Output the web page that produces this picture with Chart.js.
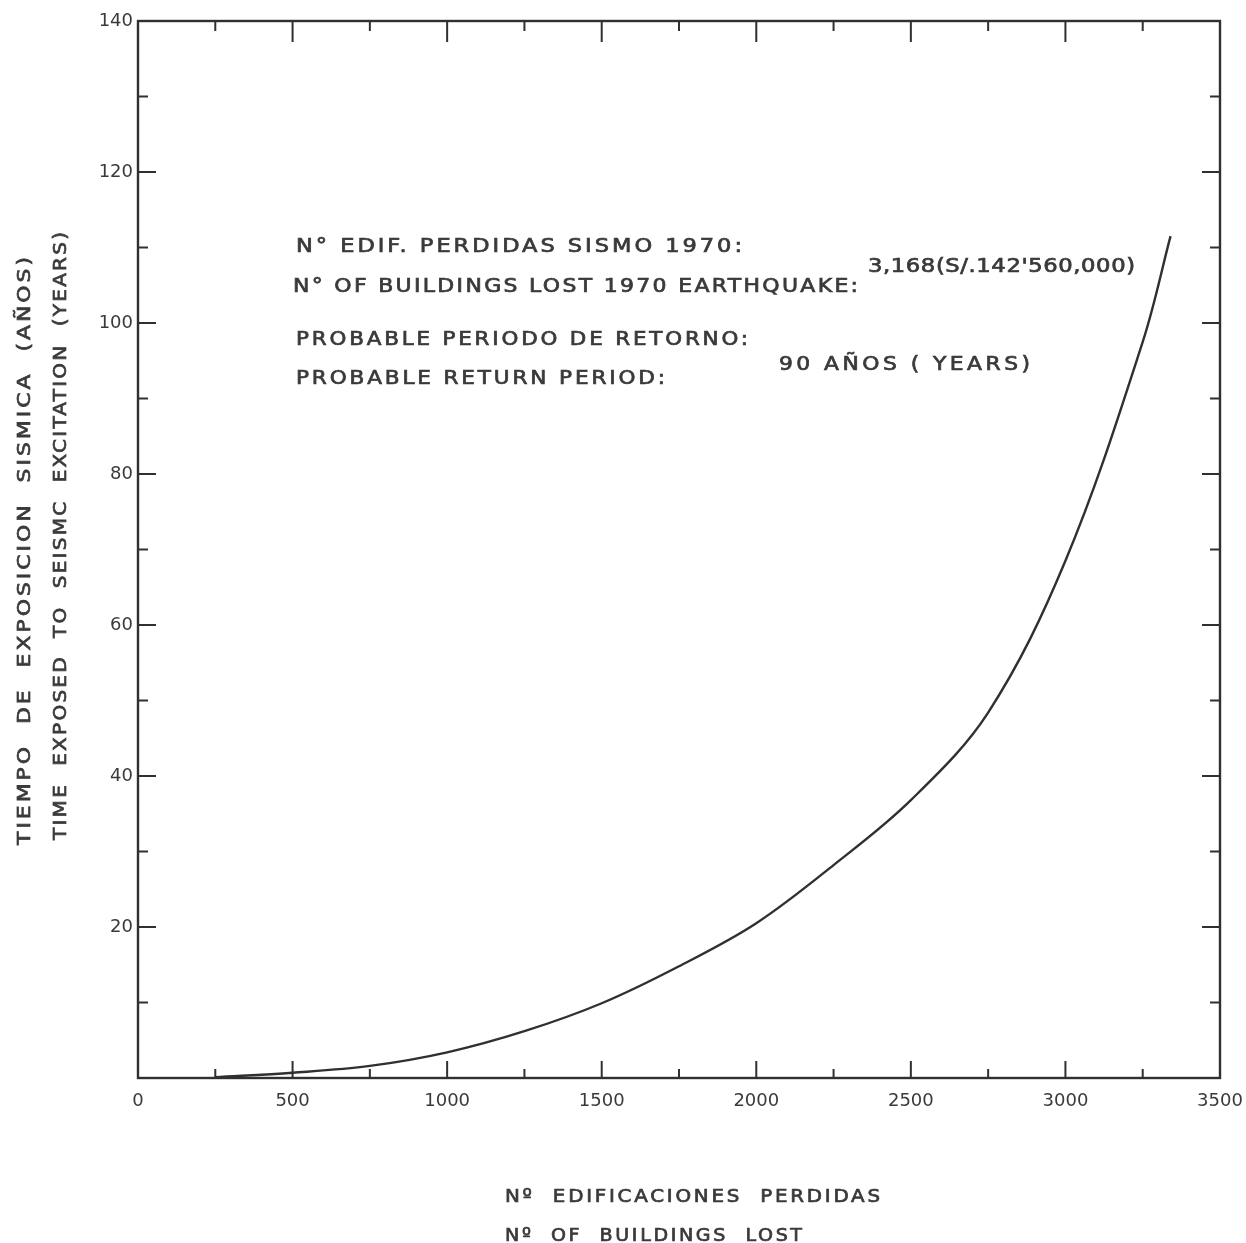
<!DOCTYPE html>
<html>
<head>
<meta charset="utf-8">
<script src="https://cdn.jsdelivr.net/npm/chart.js@4.4.1/dist/chart.umd.min.js"></script>
<style>
  html, body { margin: 0; padding: 0; background: #ffffff; }
  #wrap { position: relative; width: 1246px; height: 1243px; }
  canvas { display: block; }
</style>
</head>
<body>
<div id="wrap"><canvas id="c" width="1246" height="1243"></canvas></div>
<script>
// Buildings lost vs. exposure time curve
const buildingsLost = [250, 500, 750, 1000, 1250, 1500, 1750, 2000, 2250, 2500, 2750, 3000, 3250, 3340];
const exposureYears = [0.1, 0.7, 1.6, 3.4, 6.2, 9.9, 14.8, 20.5, 28.2, 36.8, 48.4, 68.5, 97.5, 111.5];

const xTickValues = [0, 500, 1000, 1500, 2000, 2500, 3000, 3500];
const xTickLabels = ['0', '500', '1000', '1500', '2000', '2500', '3000', '3500'];
const yTickValues = [20, 40, 60, 80, 100, 120, 140];
const yTickLabels = ['20', '40', '60', '80', '100', '120', '140'];
const xTickMarks = [250, 500, 750, 1000, 1250, 1500, 1750, 2000, 2250, 2500, 2750, 3000, 3250];
const yTickMarks = [10, 20, 30, 40, 50, 60, 70, 80, 90, 100, 110, 120, 130];

const xTitleLines = ['Nº  EDIFICACIONES  PERDIDAS', 'Nº  OF  BUILDINGS  LOST'];
const yTitleLines = ['TIEMPO  DE  EXPOSICION  SISMICA  (AÑOS)', 'TIME  EXPOSED  TO  SEISMC  EXCITATION  (YEARS)'];
const noteLines = [
  'N° EDIF. PERDIDAS SISMO 1970:',
  'N° OF BUILDINGS LOST 1970 EARTHQUAKE:',
  'PROBABLE PERIODO DE RETORNO:',
  'PROBABLE RETURN PERIOD:'
];
const noteValues = ['3,168(S/.142\'560,000)', '90 AÑOS ( YEARS)'];

const INK = '#303030';
const TEXT = '#3a3a3a';
const FONT = '"DejaVu Sans", "Liberation Sans", sans-serif';

// draws stencil-like lettering: fixed tracking, stretched horizontally to a given width
function spacedText(ctx, text, x, y, width, size, tracking) {
  ctx.save();
  ctx.font = size + 'px ' + FONT;
  ctx.letterSpacing = tracking + 'px';
  const w = ctx.measureText(text).width - tracking;
  const sx = width / w;
  ctx.translate(x, y);
  ctx.scale(sx, 1);
  ctx.textAlign = 'left';
  ctx.textBaseline = 'alphabetic';
  ctx.lineWidth = 0.7;
  ctx.strokeStyle = ctx.fillStyle;
  ctx.fillText(text, 0, 0);
  ctx.strokeText(text, 0, 0);
  ctx.restore();
}

const framePlugin = {
  id: 'frame',
  afterDatasetsDraw(chart) {
    const ctx = chart.ctx;
    const a = chart.chartArea;
    const xs = chart.scales.x, ys = chart.scales.y;
    ctx.save();
    ctx.strokeStyle = INK;
    ctx.lineWidth = 2.4;
    ctx.strokeRect(a.left, a.top, a.right - a.left, a.bottom - a.top);
    ctx.lineWidth = 2;
    ctx.beginPath();
    xTickMarks.forEach(v => {
      const px = xs.getPixelForValue(v);
      const major = v % 500 === 0;
      ctx.moveTo(px, a.bottom);
      ctx.lineTo(px, a.bottom - (major ? 17 : 9));
      ctx.moveTo(px, a.top);
      ctx.lineTo(px, a.top + (major ? 21 : 10));
    });
    yTickMarks.forEach(v => {
      const py = ys.getPixelForValue(v);
      const major = v % 20 === 0;
      ctx.moveTo(a.left, py);
      ctx.lineTo(a.left + (major ? 18 : 10), py);
      ctx.moveTo(a.right, py);
      ctx.lineTo(a.right - (major ? 18 : 10), py);
    });
    ctx.stroke();
    ctx.restore();

    // annotation block
    ctx.save();
    ctx.fillStyle = TEXT;
    spacedText(ctx, noteLines[0], 296, 252, 446, 19, 2.5);
    spacedText(ctx, noteLines[1], 293, 292, 565, 19, 2);
    spacedText(ctx, noteLines[2], 296, 345, 452, 19, 2.5);
    spacedText(ctx, noteLines[3], 296, 384, 369, 19, 2.5);
    spacedText(ctx, noteValues[0], 868, 272, 267, 19, 0.5);
    spacedText(ctx, noteValues[1], 779, 370, 251, 19, 3);

    // axis titles
    spacedText(ctx, xTitleLines[0], 505, 1202, 375, 18, 2.5);
    spacedText(ctx, xTitleLines[1], 505, 1241, 297, 18, 2.5);

    ctx.translate(30, 845);
    ctx.rotate(-Math.PI / 2);
    spacedText(ctx, yTitleLines[0], 0, 0, 588, 18, 2.5);
    ctx.restore();
    ctx.save();
    ctx.fillStyle = TEXT;
    ctx.translate(66, 840);
    ctx.rotate(-Math.PI / 2);
    spacedText(ctx, yTitleLines[1], 0, 0, 608, 18, 2);
    ctx.restore();
  }
};

new Chart(document.getElementById('c'), {
  type: 'scatter',
  data: {
    datasets: [{
      data: buildingsLost.map((x, i) => ({ x: x, y: exposureYears[i] })),
      showLine: true,
      borderColor: INK,
      borderWidth: 2.4,
      pointRadius: 0,
      tension: 0.35,
      fill: false
    }]
  },
  options: {
    responsive: false,
    animation: false,
    devicePixelRatio: 1,
    layout: { padding: { left: 0, right: 26, top: 21, bottom: 0 } },
    plugins: { legend: { display: false }, tooltip: { enabled: false } },
    scales: {
      x: {
        type: 'linear',
        min: 0, max: 3500,
        grid: { display: false, drawTicks: true, tickLength: 13 },
        border: { display: false },
        afterBuildTicks(scale) { scale.ticks = xTickValues.map(v => ({ value: v })); },
        afterFit(scale) { scale.height = 165; },
        ticks: {
          padding: 0,
          color: TEXT,
          font: { family: FONT, size: 18 },
          maxRotation: 0,
          autoSkip: false,
          callback: (v) => xTickLabels[xTickValues.indexOf(v)]
        }
      },
      y: {
        type: 'linear',
        min: 0, max: 140,
        grid: { display: false, drawTicks: false },
        border: { display: false },
        afterBuildTicks(scale) { scale.ticks = yTickValues.map(v => ({ value: v })); },
        afterFit(scale) { scale.width = 138; },
        ticks: {
          padding: 5,
          color: TEXT,
          font: { family: FONT, size: 18 },
          autoSkip: false,
          callback: (v) => yTickLabels[yTickValues.indexOf(v)]
        }
      }
    }
  },
  plugins: [framePlugin]
});
</script>
</body>
</html>
